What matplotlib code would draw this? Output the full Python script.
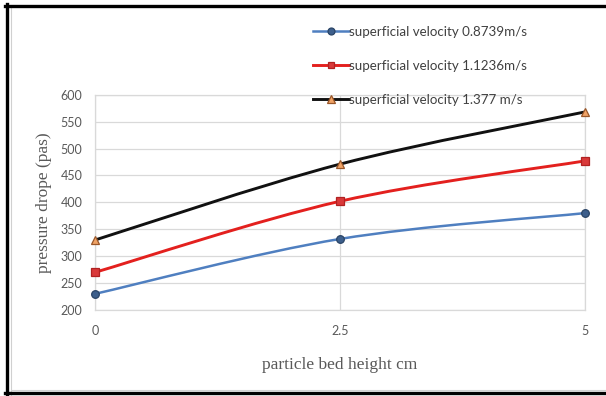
import matplotlib
matplotlib.use('Agg')
import matplotlib.pyplot as plt
import numpy as np
from matplotlib.path import Path
from matplotlib.patches import PathPatch
from matplotlib.lines import Line2D

# ── data ─────────────────────────────────────────────────────
bed_height = [0, 2.5, 5]
dp_08739 = [230, 332, 380]
dp_11236 = [270, 402, 477]
dp_1377 = [330, 471, 568]
labels = ['superficial velocity 0.8739m/s',
          'superficial velocity 1.1236m/s',
          'superficial velocity 1.377 m/s']
y_ticks = [200, 250, 300, 350, 400, 450, 500, 550, 600]
x_ticks = [0, 2.5, 5]
x_ticklabels = ['0', '2.5', '5']

TICK_FONT = 'Lato'
AXIS_FONT = 'Liberation Serif'
GREY = '#595959'


def smooth_path(xs, ys):
    """Excel-style smoothed line: cubic Bezier through every point."""
    pts = np.column_stack([xs, ys]).astype(float)
    n = len(pts)
    verts = [pts[0]]
    codes = [Path.MOVETO]
    for i in range(n - 1):
        p0 = pts[i - 1] if i > 0 else pts[i]
        p1, p2 = pts[i], pts[i + 1]
        p3 = pts[i + 2] if i + 2 < n else pts[i + 1]
        c1 = p1 + (p2 - p0) / 6.0
        c2 = p2 - (p3 - p1) / 6.0
        verts += [c1, c2, p2]
        codes += [Path.CURVE4] * 3
    return Path(verts, codes)


fig = plt.figure(figsize=(6.06, 3.96), dpi=100)
ax = fig.add_axes([95 / 606, 1 - 310 / 396, 490 / 606, 215.3 / 396])

series = [
    (dp_08739, '#4f7fc0', 'o', '#3d5f8c', '#2a4466', 5.5, 1.8),
    (dp_11236, '#e3201e', 's', '#d9393a', '#b02222', 5.5, 2.1),
    (dp_1377, '#111111', '^', '#f0a366', '#99572a', 6, 2.1),
]
handles = []
for vals, lc, mk, mfc, mec, ms, lw in series:
    ax.add_patch(PathPatch(smooth_path(bed_height, vals), fill=False,
                           edgecolor=lc, lw=lw, zorder=3, capstyle='round'))
    ax.plot(bed_height, vals, ls='none', marker=mk, ms=ms, mfc=mfc,
            mec=mec, mew=0.9, zorder=4, clip_on=False)
    handles.append(Line2D([], [], color=lc, lw=lw, marker=mk, ms=ms - 0.5,
                          mfc=mfc, mec=mec, mew=0.9))

ax.set_xlim(0, 5)
ax.set_ylim(200, 600)
ax.set_xticks(x_ticks)
ax.set_xticklabels(x_ticklabels)
ax.set_yticks(y_ticks)
ax.grid(True, color='#d9d9d9', lw=0.9)
ax.set_axisbelow(True)
for s in ax.spines.values():
    s.set_color('#d9d9d9')
    s.set_linewidth(0.9)
ax.tick_params(length=0, labelsize=9, labelcolor=GREY, pad=9)
for t in ax.get_xticklabels() + ax.get_yticklabels():
    t.set_fontfamily(TICK_FONT)
ax.tick_params(axis='x', pad=11)

ax.set_xlabel('particle bed height cm', fontsize=12.5, family=AXIS_FONT,
              color=GREY, labelpad=14)
ax.set_ylabel('pressure drope (pas)', fontsize=12.5, family=AXIS_FONT,
              color=GREY, labelpad=6)

leg = fig.legend(handles, labels, loc='upper left',
                 bbox_to_anchor=(306 / 606, 1 - 19 / 396),
                 frameon=False, handlelength=2.7, handletextpad=0.05,
                 labelspacing=1.65, borderpad=0,
                 prop={'family': TICK_FONT, 'size': 9.6})
for t in leg.get_texts():
    t.set_color('#404040')

# sheet frame around the chart
fig.add_artist(Line2D([10.5 / 606, 10.5 / 606], [0, 1 - 8 / 396],
                      transform=fig.transFigure, color='#d0d0d0', lw=0.8))
fig.add_artist(Line2D([10.5 / 606, 1], [1 - 389.5 / 396, 1 - 389.5 / 396],
                      transform=fig.transFigure, color='#d0d0d0', lw=0.8))
fig.add_artist(Line2D([6.5 / 606, 6.5 / 606], [0, 1 - 4 / 396],
                      transform=fig.transFigure, color='black', lw=2.4))
fig.add_artist(Line2D([5 / 606, 1], [1 - 5.5 / 396, 1 - 5.5 / 396],
                      transform=fig.transFigure, color='black', lw=2.4))
fig.add_artist(Line2D([5 / 606, 1], [1 - 392.5 / 396, 1 - 392.5 / 396],
                      transform=fig.transFigure, color='black', lw=2.4))

fig.savefig('out.png', dpi=100)
